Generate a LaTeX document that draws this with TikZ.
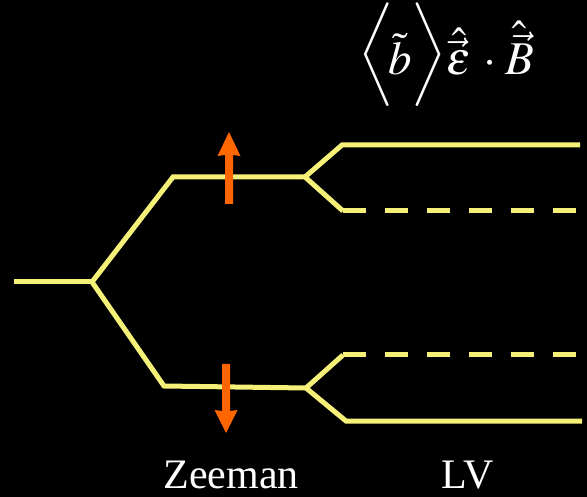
\documentclass[tikz,border=0pt]{standalone}
\usepackage{mathptmx}
\usepackage{graphicx}
\usepackage{fontspec}
\setmainfont{Liberation Serif}
\definecolor{levelyellow}{RGB}{245,240,120}
\definecolor{spinorange}{RGB}{255,102,0}
\tikzset{
  level/.style={draw=levelyellow, line width=5pt, line join=miter, line cap=butt},
  shifted/.style={level, dash pattern=on 23pt off 19pt},
  spin/.style={fill=spinorange, draw=none},
  caption/.style={text=white, font=\fontsize{42}{46}\selectfont, inner sep=0pt, anchor=base}
}
% a slightly squashed, raised angle bracket
\newcommand{\bracketbox}[1]{\raisebox{9.5pt}{\scalebox{1}[0.92]{$#1$}}}
\begin{document}
\begin{tikzpicture}[x=1pt,y=-1pt]
  \fill[black] (0,0) rectangle (587,497);
  \useasboundingbox (0,0) rectangle (587,497);

  % unperturbed level and the Zeeman splitting
  \coordinate (g0) at (14,282);
  \coordinate (g1) at (92,282);
  \coordinate (u0) at (173,177);
  \coordinate (u1) at (305,177);
  \coordinate (d0) at (164,386);
  \coordinate (d1) at (306,388);

  % Lorentz-violating splitting of each Zeeman level
  \coordinate (uu0) at (342,145);
  \coordinate (uu1) at (580,145);
  \coordinate (ud0) at (343,211);
  \coordinate (ud1) at (577,211);
  \coordinate (du0) at (343,355);
  \coordinate (du1) at (576,355);
  \coordinate (dd0) at (346,421);
  \coordinate (dd1) at (582,421);

  \draw[level] (g0) -- (g1);
  \draw[level] (g1) -- (u0) -- (u1);
  \draw[level] (g1) -- (d0) -- (d1);

  \draw[level] (u1) -- (uu0) -- (uu1);
  \draw[level] (u1) -- (ud0);
  \draw[shifted] (ud0) -- (ud1);

  \draw[level] (d1) -- (du0);
  \draw[shifted] (du0) -- (du1);
  \draw[level] (d1) -- (dd0) -- (dd1);

  % spin arrows
  \fill[spin] (225,204) -- (225,155) -- (217.5,156) -- (229,132) -- (240.5,156) -- (233,155) -- (233,204) -- cycle;
  \fill[spin] (222,364) -- (222,411) -- (214.5,410) -- (226,433) -- (237.5,410) -- (230,411) -- (230,364) -- cycle;

  % labels
  \node[caption] (zeeman) at (231,488) {Zeeman};
  \node[caption] (lv) at (468,488) {LV};
  \node[text=white, inner sep=0pt, anchor=base west] (shift) at (358,75)
    {\fontsize{47}{50}\selectfont
     $\mathopen{\bracketbox{\biggl\langle}}\! \tilde{b} \mathclose{\bracketbox{\biggr\rangle}}
      \hat{\vec{\varepsilon}} \mkern2mu\cdot\mkern1mu \hat{\vec{B}}$};
\end{tikzpicture}
\end{document}
